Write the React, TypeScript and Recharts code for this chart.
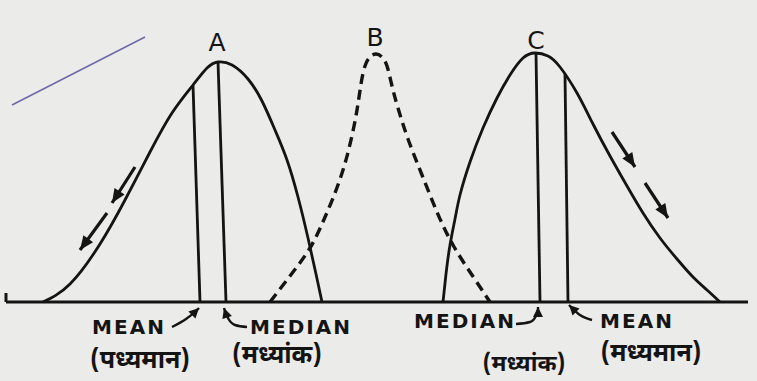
import React from 'react';
import { LineChart, Line, XAxis, YAxis, ReferenceDot } from 'recharts';

type P = { x: number; y: number };

// Skewed curve A (negative skew), symmetric B (dashed), positive skew C
const curveA: P[] = [
  { x: 43, y: 0 }, { x: 70, y: 18 }, { x: 100, y: 58 }, { x: 125, y: 102 }, { x: 150, y: 150 },
  { x: 172, y: 189 }, { x: 193, y: 217 }, { x: 207, y: 234 }, { x: 218, y: 240 },
  { x: 232, y: 237 }, { x: 248, y: 223 }, { x: 262, y: 201 }, { x: 275, y: 172 }, { x: 287, y: 142 },
  { x: 298, y: 105 }, { x: 308, y: 64 }, { x: 316, y: 28 }, { x: 322, y: 0 },
];
const curveB: P[] = [
  { x: 270, y: 0 }, { x: 293, y: 30 }, { x: 310, y: 54 }, { x: 322, y: 78 }, { x: 333, y: 104 },
  { x: 343, y: 132 }, { x: 351, y: 162 }, { x: 357, y: 192 }, { x: 361, y: 218 }, { x: 365, y: 236 },
  { x: 370, y: 245 }, { x: 376, y: 248 }, { x: 382, y: 245 }, { x: 387, y: 236 }, { x: 392, y: 216 },
  { x: 398, y: 194 }, { x: 408, y: 163 }, { x: 422, y: 127 }, { x: 437, y: 90 }, { x: 453, y: 57 },
  { x: 472, y: 27 }, { x: 490, y: 0 },
];
const curveC: P[] = [
  { x: 443, y: 0 }, { x: 446, y: 28 }, { x: 450, y: 57 }, { x: 455, y: 83 }, { x: 460, y: 107 },
  { x: 470, y: 140 }, { x: 483, y: 174 }, { x: 497, y: 204 }, { x: 510, y: 227 }, { x: 523, y: 244 },
  { x: 535, y: 249 }, { x: 548, y: 246 }, { x: 560, y: 235 }, { x: 577, y: 209 }, { x: 593, y: 178 },
  { x: 610, y: 146 }, { x: 627, y: 116 }, { x: 643, y: 89 }, { x: 660, y: 64 }, { x: 677, y: 43 },
  { x: 693, y: 25 }, { x: 707, y: 12 }, { x: 720, y: 0 },
];

const meanA: P[] = [{ x: 193, y: 217 }, { x: 200, y: 0 }];
const medianA: P[] = [{ x: 218, y: 240 }, { x: 226, y: 0 }];
const medianC: P[] = [{ x: 536, y: 249 }, { x: 540, y: 0 }];
const meanC: P[] = [{ x: 565, y: 228 }, { x: 568, y: 0 }];

const baseline: P[] = [{ x: 6, y: 0 }, { x: 748, y: 0 }];
const leftTick: P[] = [{ x: 6, y: 9 }, { x: 6, y: 0 }];
const penLine: P[] = [{ x: 12, y: 197 }, { x: 145, y: 265 }];

const arrowA1: P[] = [{ x: 135, y: 135 }, { x: 112, y: 99 }];
const arrowA2: P[] = [{ x: 107, y: 89 }, { x: 80, y: 52 }];
const arrowC1: P[] = [{ x: 612, y: 170 }, { x: 635, y: 135 }];
const arrowC2: P[] = [{ x: 645, y: 119 }, { x: 668, y: 84 }];

const meanLeftArrow: P[] = [{ x: 172, y: -25 }, { x: 186, y: -17 }, { x: 196, y: -9 }, { x: 199, y: -6 }];
const medianLeftArrow: P[] = [{ x: 247, y: -25 }, { x: 235, y: -23 }, { x: 228, y: -16 }, { x: 225, y: -9 }, { x: 224, y: -6 }];
const medianRightArrow: P[] = [{ x: 516, y: -22 }, { x: 530, y: -20 }, { x: 536, y: -14 }, { x: 538, y: -8 }, { x: 538, y: -5 }];
const meanRightArrow: P[] = [{ x: 592, y: -18 }, { x: 580, y: -13 }, { x: 572, y: -6 }, { x: 569, y: -3 }];

const peakLabels = [
  { text: 'A', x: 217, y: 260 },
  { text: 'B', x: 375, y: 265 },
  { text: 'C', x: 536, y: 262 },
];
const englishLabels = [
  { text: 'MEAN', x: 129, y: -25 },
  { text: 'MEDIAN', x: 301, y: -25 },
  { text: 'MEDIAN', x: 465, y: -19 },
  { text: 'MEAN', x: 637, y: -19 },
];
const hindiLabels = [
  { text: '(पध्यमान)', x: 140, y: -57, size: 25 },
  { text: '(मध्यांक)', x: 277, y: -52, size: 25 },
  { text: '(मध्यांक)', x: 524, y: -61, size: 23 },
  { text: '(मध्यमान)', x: 651, y: -50, size: 25 },
];

const INK = '#141414';
const SANS = "'DejaVu Sans', 'Liberation Sans', sans-serif";
const DEVA = "'Noto Sans Devanagari', 'Lohit Devanagari', 'Noto Sans', 'DejaVu Sans', sans-serif";

const arrowDot = (data: P[], len = 13, half = 5.5) => (props: any) => {
  const { cx, cy, index } = props;
  if (index !== data.length - 1 || cx == null) return <g key={`d${index}`} />;
  const a = data[data.length - 2];
  const b = data[data.length - 1];
  const th = Math.atan2(-(b.y - a.y), b.x - a.x);
  const c = Math.cos(th), s = Math.sin(th);
  const bx = cx - len * c, by = cy - len * s;
  const pts = `${cx},${cy} ${bx - half * s},${by + half * c} ${bx + half * s},${by - half * c}`;
  return <polygon key={`d${index}`} points={pts} fill={INK} stroke="none" />;
};

const line = (data: P[], key: string, extra: any = {}) => (
  <Line
    key={key}
    data={data}
    dataKey="y"
    type="natural"
    stroke={INK}
    strokeWidth={2.8}
    dot={false}
    activeDot={false}
    isAnimationActive={false}
    {...extra}
  />
);

export default function App() {
  return (
    <div style={{ position: 'absolute', left: 0, top: 0, width: 757, height: 381, background: '#ebebea' }}>
      <LineChart width={757} height={381} margin={{ top: 0, right: 0, bottom: 0, left: 0 }}>
        <XAxis type="number" dataKey="x" domain={[0, 757]} hide allowDataOverflow />
        <YAxis type="number" domain={[-79, 302]} hide allowDataOverflow />
        {line(penLine, 'pen', { stroke: '#6b6aa6', strokeWidth: 1.5, type: 'linear' })}
        {line(baseline, 'base', { strokeWidth: 3, type: 'linear' })}
        {line(leftTick, 'tick', { strokeWidth: 3, type: 'linear' })}
        {line(curveB, 'B', { strokeDasharray: '10 6', strokeWidth: 3.4 })}
        {line(curveA, 'A')}
        {line(curveC, 'C')}
        {line(meanA, 'meanA', { type: 'linear' })}
        {line(medianA, 'medianA', { type: 'linear' })}
        {line(medianC, 'medianC', { type: 'linear' })}
        {line(meanC, 'meanC', { type: 'linear' })}
        {[arrowA1, arrowA2, arrowC1, arrowC2].map((d, i) =>
          line(d, `arr${i}`, { type: 'linear', strokeWidth: 3.2, dot: arrowDot(d, 14, 6) })
        )}
        {[meanLeftArrow, medianLeftArrow, medianRightArrow, meanRightArrow].map((d, i) =>
          line(d, `larr${i}`, { type: 'monotone', strokeWidth: 2.4, dot: arrowDot(d, 10, 5) })
        )}
        {peakLabels.map((l) => (
          <ReferenceDot
            key={l.text}
            x={l.x}
            y={l.y}
            r={0}
            ifOverflow="visible"
            label={{ value: l.text, position: 'center', fill: INK, fontSize: 25, fontFamily: SANS }}
          />
        ))}
        {englishLabels.map((l, i) => (
          <ReferenceDot
            key={`en${i}`}
            x={l.x}
            y={l.y}
            r={0}
            ifOverflow="visible"
            label={{ value: l.text, position: 'center', fill: INK, fontSize: 20, fontWeight: 700, fontFamily: SANS, letterSpacing: 2 }}
          />
        ))}
        {hindiLabels.map((l, i) => (
          <ReferenceDot
            key={`hi${i}`}
            x={l.x}
            y={l.y}
            r={0}
            ifOverflow="visible"
            label={{ value: l.text, position: 'center', fill: INK, fontSize: l.size, fontWeight: 700, fontFamily: DEVA }}
          />
        ))}
      </LineChart>
    </div>
  );
}
